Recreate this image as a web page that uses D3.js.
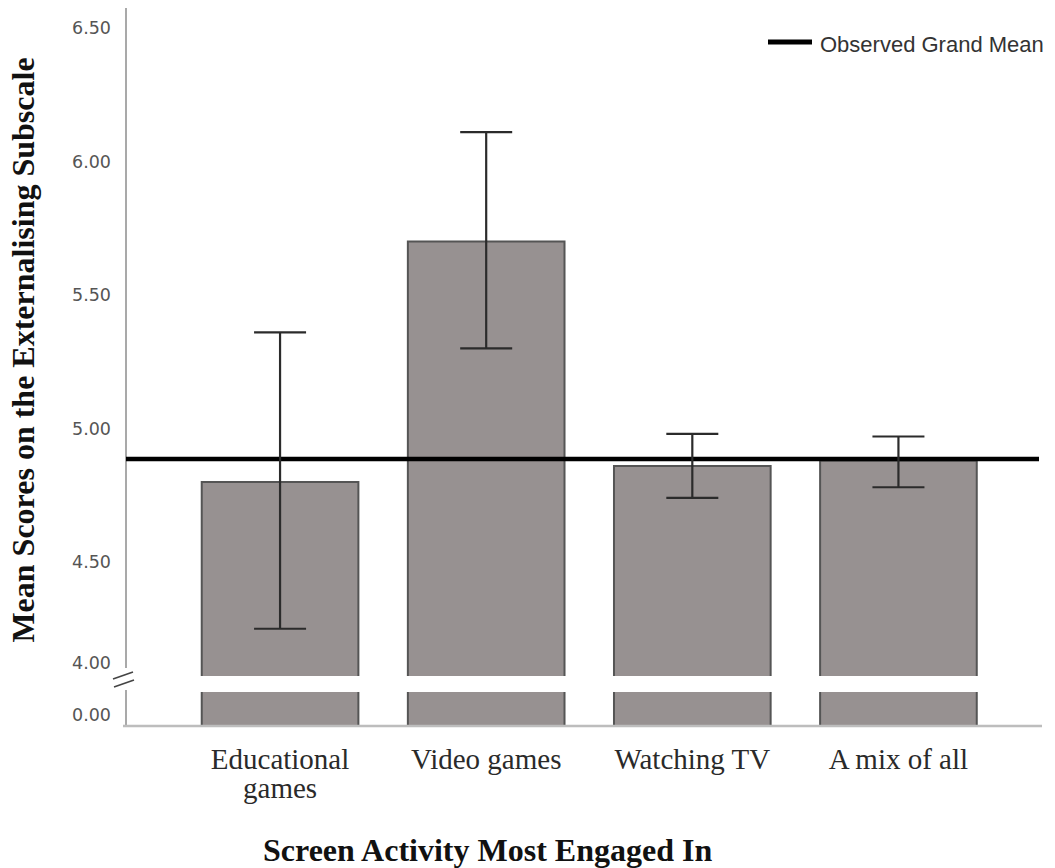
<!DOCTYPE html>
<html>
<head>
<meta charset="utf-8">
<script src="https://cdn.jsdelivr.net/npm/d3@7"></script>
<style>
  body { margin: 0; background: #ffffff; }
  svg { display: block; }
</style>
</head>
<body>
<svg id="chart" width="1055" height="868"></svg>
<script>
// Screen activity groups and their externalising means with 95% CI
const categories = ["Educational games", "Video games", "Watching TV", "A mix of all"];
const categoryLines = [["Educational", "games"], ["Video games"], ["Watching TV"], ["A mix of all"]];
const means = [4.80, 5.70, 4.86, 4.88];
const ciLower = [4.25, 5.30, 4.74, 4.78];
const ciUpper = [5.36, 6.11, 4.98, 4.97];
const grandMean = 4.886;
const upperTicks = [4.50, 5.00, 5.50, 6.00, 6.50];
const breakTick = [4.00];   // labelled at the top of the axis break
const lowerTicks = [0.00];

const svg = d3.select("#chart");

// layout
const axisX = 126;
const plotRight = 1042;
const axisTop = 8;
const breakTop = 676;     // bottom of the upper (broken) panel
const breakBottom = 692;  // top of the lower panel
const baseline = 726;

const x = d3.scaleBand()
  .domain(categories)
  .range([177, 1001.5])
  .paddingInner(0.24)
  .paddingOuter(0.12);

// upper panel scale
const yUpper = d3.scaleLinear().domain([4.5, 6.5]).range([562, 28]);
// lower panel: only the zero baseline
const yLower = d3.scaleLinear().domain([0, 1]).range([baseline, baseline - 200]);

const rows = categories.map((c, i) => ({
  cat: c, lines: categoryLines[i], mean: means[i], lo: ciLower[i], hi: ciUpper[i]
}));

// ---- bars (two segments each, split by the axis break)
const barFill = "#979191";
const barEdge = "#555";
const bars = svg.append("g");
rows.forEach(d => {
  const x0 = x(d.cat), w = x.bandwidth(), yt = yUpper(d.mean);
  bars.append("rect")
    .attr("x", x0).attr("y", yt).attr("width", w).attr("height", breakTop - yt)
    .attr("fill", barFill);
  bars.append("path")
    .attr("d", `M${x0},${breakTop}V${yt}H${x0 + w}V${breakTop}`)
    .attr("fill", "none").attr("stroke", barEdge).attr("stroke-width", 2);
  bars.append("rect")
    .attr("x", x0).attr("y", breakBottom).attr("width", w).attr("height", yLower(0) - breakBottom)
    .attr("fill", barFill);
  bars.append("path")
    .attr("d", `M${x0},${breakBottom}V${yLower(0)}M${x0 + w},${breakBottom}V${yLower(0)}`)
    .attr("fill", "none").attr("stroke", barEdge).attr("stroke-width", 2);
});

// ---- axes
const axisColor = "#a9a9a9";
svg.append("line")
  .attr("x1", axisX).attr("x2", axisX).attr("y1", axisTop).attr("y2", breakTop - 8)
  .attr("stroke", axisColor).attr("stroke-width", 2);
svg.append("line")
  .attr("x1", axisX).attr("x2", axisX).attr("y1", breakBottom - 2).attr("y2", baseline)
  .attr("stroke", axisColor).attr("stroke-width", 2);
svg.append("line")
  .attr("x1", axisX - 3).attr("x2", plotRight).attr("y1", baseline).attr("y2", baseline)
  .attr("stroke", "#bdbdbd").attr("stroke-width", 2.5);

// break marks
[[113, 679, 133, 672], [114, 687, 134, 680]].forEach(s => {
  svg.append("line")
    .attr("x1", s[0]).attr("y1", s[1]).attr("x2", s[2]).attr("y2", s[3])
    .attr("stroke", "#444").attr("stroke-width", 1.6);
});

const tickFont = g => g.selectAll("text")
  .attr("font-family", "'DejaVu Sans', sans-serif")
  .attr("font-size", 17.5)
  .attr("fill", "#555");

const upperAxis = svg.append("g")
  .attr("transform", `translate(${axisX},0)`)
  .call(d3.axisLeft(yUpper).tickValues(upperTicks).tickSize(0).tickPadding(15).tickFormat(d3.format(".2f")));
upperAxis.select(".domain").remove();
upperAxis.call(tickFont);

// 4.00 label sits just above the break
const yBreak = d3.scaleLinear().domain([4.0, 4.5]).range([breakTop - 13, breakTop - 113]);
const breakAxis = svg.append("g")
  .attr("transform", `translate(${axisX},0)`)
  .call(d3.axisLeft(yBreak).tickValues(breakTick).tickSize(0).tickPadding(15).tickFormat(d3.format(".2f")));
breakAxis.select(".domain").remove();
breakAxis.call(tickFont);

const lowerAxis = svg.append("g")
  .attr("transform", `translate(${axisX},0)`)
  .call(d3.axisLeft(yLower).tickValues(lowerTicks).tickSize(0).tickPadding(15).tickFormat(d3.format(".2f")));
lowerAxis.select(".domain").remove();
lowerAxis.call(tickFont);
lowerAxis.selectAll("text").attr("y", -11);

// ---- grand mean reference line
svg.append("line")
  .attr("x1", axisX).attr("x2", 1039)
  .attr("y1", yUpper(grandMean)).attr("y2", yUpper(grandMean))
  .attr("stroke", "#000").attr("stroke-width", 4.5);

// ---- error bars
const errColor = "#2b2b2b";
const capW = 52;
const err = svg.append("g").attr("stroke", errColor).attr("stroke-width", 2.2).attr("fill", "none");
rows.forEach(d => {
  const cx = x(d.cat) + x.bandwidth() / 2;
  err.append("line").attr("x1", cx).attr("x2", cx).attr("y1", yUpper(d.hi)).attr("y2", yUpper(d.lo));
  err.append("line").attr("x1", cx - capW / 2).attr("x2", cx + capW / 2).attr("y1", yUpper(d.hi)).attr("y2", yUpper(d.hi));
  err.append("line").attr("x1", cx - capW / 2).attr("x2", cx + capW / 2).attr("y1", yUpper(d.lo)).attr("y2", yUpper(d.lo));
});

// ---- category labels
const catG = svg.append("g")
  .attr("font-family", "'Liberation Serif', 'Times New Roman', serif")
  .attr("font-size", 29)
  .attr("fill", "#2a2a2a")
  .attr("text-anchor", "middle");
rows.forEach(d => {
  const t = catG.append("text").attr("x", x(d.cat) + x.bandwidth() / 2).attr("y", 769);
  d.lines.forEach((ln, j) => {
    t.append("tspan").attr("x", x(d.cat) + x.bandwidth() / 2).attr("dy", j === 0 ? 0 : 29).text(ln);
  });
});

// ---- axis titles
svg.append("text")
  .attr("x", 263).attr("y", 861)
  .attr("font-family", "'Liberation Serif', 'Times New Roman', serif")
  .attr("font-weight", "bold").attr("font-size", 32).attr("fill", "#111")
  .text("Screen Activity Most Engaged In");

svg.append("text")
  .attr("transform", "translate(34,350) rotate(-90)")
  .attr("text-anchor", "middle")
  .attr("font-family", "'Liberation Serif', 'Times New Roman', serif")
  .attr("font-weight", "bold").attr("font-size", 32).attr("fill", "#111")
  .text("Mean Scores on the Externalising Subscale");

// ---- legend
const leg = svg.append("g");
leg.append("line").attr("x1", 768).attr("x2", 812).attr("y1", 42).attr("y2", 42)
  .attr("stroke", "#000").attr("stroke-width", 5);
leg.append("text").attr("x", 820).attr("y", 52)
  .attr("font-family", "'Liberation Sans', Arial, sans-serif")
  .attr("font-size", 22).attr("fill", "#333")
  .text("Observed Grand Mean");
</script>
</body>
</html>
